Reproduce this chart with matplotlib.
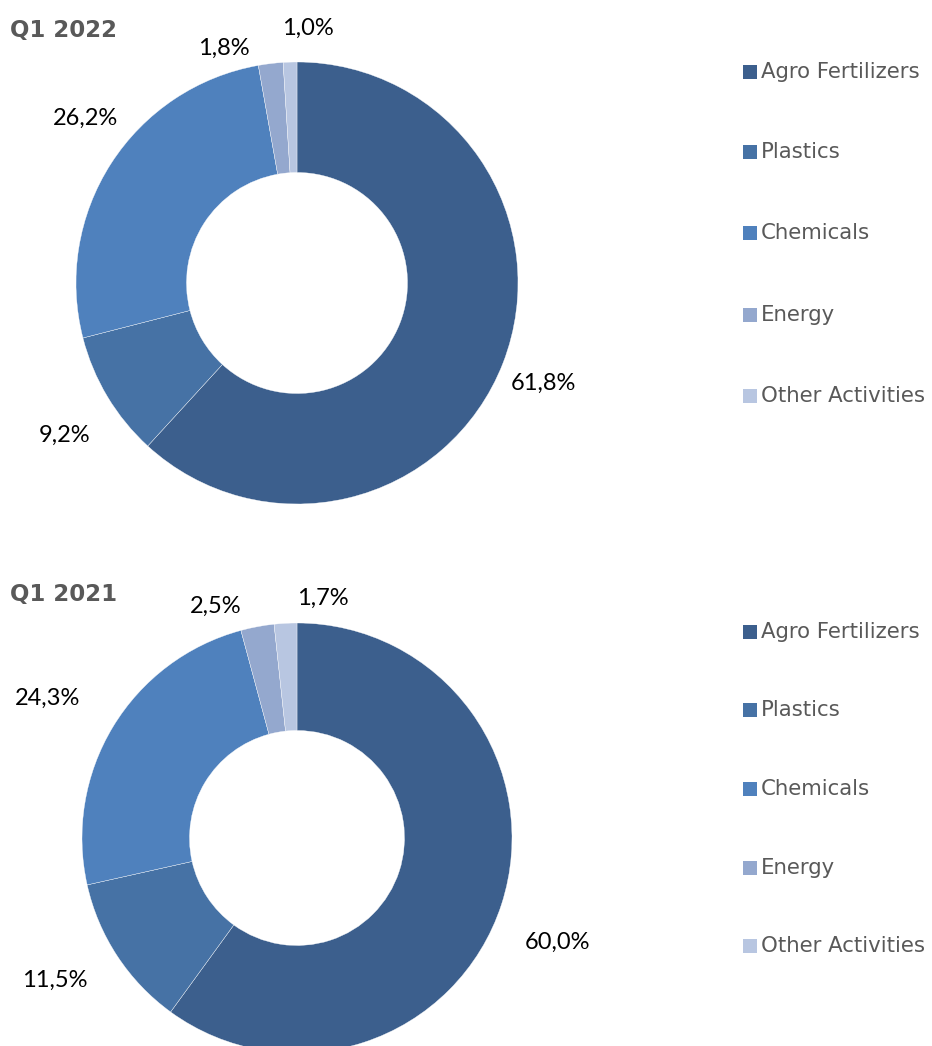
import matplotlib.pyplot as plt

# segment shares (%)
segments = ["Agro Fertilizers", "Plastics", "Chemicals", "Energy", "Other Activities"]
share_2022 = [61.8, 9.2, 26.2, 1.8, 1.0]
share_2021 = [60.0, 11.5, 24.3, 2.5, 1.7]
titles = ["Q1 2022", "Q1 2021"]

colors = ["#3C5F8D", "#4672A5", "#4F81BD", "#94A8CE", "#B8C6E1"]
TEXT_GREY = "#595959"

W, H = 932, 1046
fig = plt.figure(figsize=(W / 100, H / 100), dpi=100)
ax = fig.add_axes([0, 0, 1, 1])

# layout in pixel space (y measured from the top of the figure)
panels = [
    dict(values=share_2022, title=titles[0], cx=297, cy=283, r=221, title_y=30,
         legend_y=[72, 152, 233, 315, 396],
         label_off=[(246, -100), (-232, -152), (-212, 165), (-73, 235), (11, 255)]),
    dict(values=share_2021, title=titles[1], cx=297, cy=838, r=215, title_y=594,
         legend_y=[632, 710, 789, 868, 946],
         label_off=[(260, -104), (-242, -142), (-249, 140), (-81, 232), (26, 240)]),
]

for p in panels:
    cy = H - p["cy"]
    ax.pie(p["values"], colors=colors, startangle=90, counterclock=False,
           center=(p["cx"], cy), radius=p["r"],
           wedgeprops=dict(width=p["r"] * 0.5, edgecolor="white", linewidth=0.25))
    for v, (dx, dy) in zip(p["values"], p["label_off"]):
        ax.text(p["cx"] + dx, cy + dy, f"{v:.1f}%".replace(".", ","),
                ha="center", va="center", fontsize=17, family="Lato", color="black")
    ax.text(10, H - p["title_y"], p["title"], ha="left", va="center", fontsize=16.5,
            fontweight="bold", color=TEXT_GREY, family="DejaVu Sans")
    # legend
    for name, col, ly in zip(segments, colors, p["legend_y"]):
        ax.scatter([750], [H - ly], marker="s", s=95, color=col, linewidths=0)
        ax.text(761, H - ly, name, ha="left", va="center", fontsize=15.3,
                color=TEXT_GREY, family="DejaVu Sans")

ax.set_xlim(0, W)
ax.set_ylim(0, H)
ax.set_aspect("equal")
ax.axis("off")

fig.savefig("out.png", dpi=100)
